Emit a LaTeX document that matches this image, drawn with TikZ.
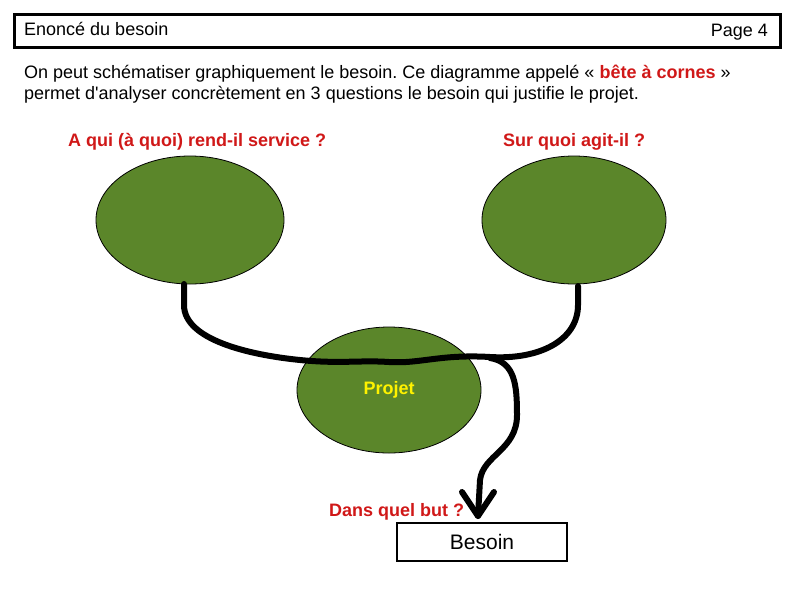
\documentclass[tikz,border=0pt]{standalone}
\usepackage{fontspec}
\setmainfont{Liberation Sans}
\usetikzlibrary{shapes.geometric}
\frenchspacing
\begin{document}
\begin{tikzpicture}[x=1pt,y=-1pt,
  blob/.style={ellipse,draw=black,fill=blobgreen,line width=0.8pt},
  qlab/.style={text=qred,font=\fontsize{18}{21}\selectfont\bfseries,inner sep=0pt},
  rope/.style={line width=6pt,line cap=round,line join=round}]
\definecolor{blobgreen}{HTML}{5B862A}
\definecolor{qred}{HTML}{D01818}
\useasboundingbox (0,0) rectangle (794,595);
\node[draw,line width=3pt,minimum width=766pt,minimum height=33pt,anchor=north west,inner sep=0pt] (hdr) at (13,13) {};
\node[anchor=west,inner sep=0pt,font=\fontsize{18}{21}\selectfont] (t1) at (24,29) {Enoncé du besoin};
\node[anchor=east,inner sep=0pt,font=\fontsize{18}{21}\selectfont] (t2) at (768,32) {Page 4};
\node[anchor=north west,inner sep=0pt,align=left,font=\fontsize{18}{21}\selectfont] (intro) at (24,65)
 {On peut schématiser graphiquement le besoin. Ce diagramme appelé « \textcolor{qred}{\bfseries bête à cornes} »\\permet d\textquotesingle analyser concrètement en 3 questions le besoin qui justifie le projet.};
\node[qlab,anchor=west] (q1) at (68,142) {A qui (à quoi) rend-il service ?};
\node[qlab,anchor=west] (q2) at (503,142) {Sur quoi agit-il ?};
\node[blob,minimum width=188pt,minimum height=128pt] (e1) at (190,220) {};
\node[blob,minimum width=184pt,minimum height=128pt] (e2) at (574,220) {};
\node[blob,minimum width=184pt,minimum height=126pt,text=yellow,font=\fontsize{18}{21}\selectfont\bfseries] (e3) at (389,390) {Projet};
\node[qlab,anchor=west] (q3) at (329,512) {Dans quel but ?};
\node[draw,line width=1.2pt,minimum width=170pt,minimum height=38pt,font=\fontsize{21}{24}\selectfont] (bes) at (482,542) {Besoin};
\coordinate (j) at (490,358);
\coordinate (tip) at (478,516);
\draw[rope] (184,284) -- (184,305) .. controls (184,340) and (250,355) .. (300,360)
  .. controls (340,364) and (360,360) .. (389,362) .. controls (420,364) and (440,354) .. (490,357)
  .. controls (540,360) and (578,340) .. (578,305) -- (578,286);
\draw[rope] (j) .. controls (515,362) and (517,385) .. (517,415)
  .. controls (517,450) and (483,455) .. (480,480) -- (tip);
\draw[rope] (462,492) -- (tip) -- (494,492);
\end{tikzpicture}
\end{document}
